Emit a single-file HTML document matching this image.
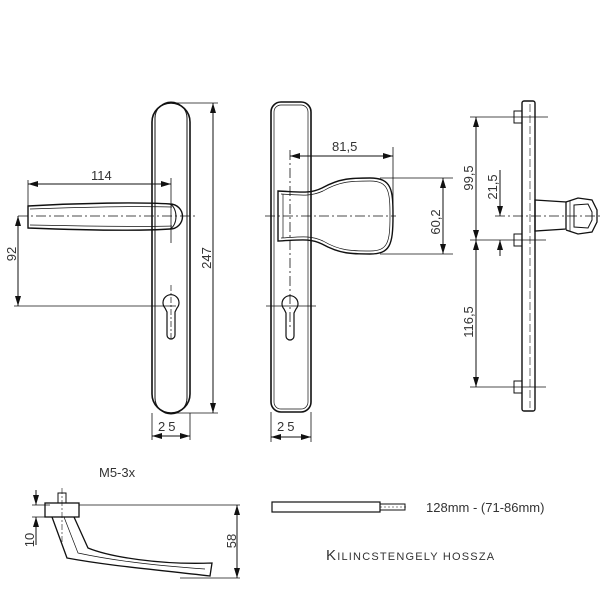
<!DOCTYPE html>
<html><head><meta charset="utf-8"><style>
html,body{margin:0;padding:0;background:#fff}
svg{display:block}
text{font-family:"Liberation Sans",sans-serif;fill:#333}
</style></head><body>
<svg width="600" height="600" viewBox="0 0 600 600" xmlns="http://www.w3.org/2000/svg">
<defs>
<marker id="a" viewBox="0 0 10 6" refX="10" refY="3" markerWidth="10" markerHeight="6" orient="auto-start-reverse" markerUnits="userSpaceOnUse"><path d="M0,0L10,3L0,6z" fill="#111"/></marker>
</defs>
<g stroke="#111" fill="none" stroke-width="1">
<!-- LEFT PLATE -->
<rect x="152" y="103" width="38" height="310" rx="19" stroke-width="1.6"/>
<line x1="155" y1="118" x2="155" y2="398"/><line x1="187" y1="118" x2="187" y2="398"/>
<path d="M155,118 A16,16 0 0 1 187,118 M155,398 A16,16 0 0 0 187,398"/>
<line x1="172" y1="103" x2="218" y2="103" stroke-width=".8"/><line x1="172" y1="413" x2="218" y2="413" stroke-width=".8"/>
<line x1="213" y1="103" x2="213" y2="413" marker-start="url(#a)" marker-end="url(#a)"/>
<line x1="28" y1="180" x2="28" y2="221" stroke-width=".8"/><line x1="171" y1="178" x2="171" y2="243" stroke-width=".8"/>
<line x1="28" y1="184" x2="171" y2="184" marker-start="url(#a)" marker-end="url(#a)"/>
<path d="M28,206 C80,203 140,202 170,204 A12,12 0 1 1 170,229 C140,231 80,230 28,228 Z" stroke-width="1.4"/>
<path d="M30,209 C80,207 140,206 172,207 M30,225 C80,226 140,227 172,226" stroke-width=".7"/>
<path d="M170,204 C178,208 178,225 170,229" stroke-width="1"/>
<line x1="18" y1="216" x2="198" y2="216" stroke-dasharray="10,3,2,3" stroke-width=".8"/>
<line x1="18" y1="216" x2="18" y2="306" marker-start="url(#a)" marker-end="url(#a)"/>
<line x1="14" y1="306" x2="176" y2="306" stroke-width=".8"/>
<path d="M165,308 A8,8 0 1 1 177,308 L175,312 L175,335 A4,4 0 0 1 167,335 L167,312 Z" stroke-width="1.2"/>
<line x1="171" y1="285" x2="171" y2="340" stroke-dasharray="6,2,2,2" stroke-width=".7"/>
<line x1="152" y1="413" x2="152" y2="440" stroke-width=".8"/><line x1="190" y1="413" x2="190" y2="440" stroke-width=".8"/>
<line x1="152" y1="436" x2="190" y2="436" marker-start="url(#a)" marker-end="url(#a)"/>

<!-- MIDDLE PLATE -->
<rect x="271" y="102" width="40" height="310" rx="10" stroke-width="1.6"/>
<rect x="274" y="105" width="34" height="304" rx="7" stroke-width=".7"/>
<line x1="290" y1="150" x2="290" y2="330" stroke-dasharray="10,3,2,3" stroke-width=".8"/>
<line x1="265" y1="216" x2="396" y2="216" stroke-dasharray="10,3,2,3" stroke-width=".8"/>
<path d="M278,191 C300,192 310,194 322,188 C340,178 352,178 370,178 C392,178 393,190 393,216 C393,245 390,254 370,254 C352,254 340,254 322,244 C310,238 300,240 278,241 Z" stroke-width="1.4"/>
<path d="M281,194 C300,195 310,197 323,191 C340,181 352,181 370,181 C389,181 390,192 390,216 C390,242 388,251 370,251 C352,251 340,251 323,241 C310,235 300,237 281,238" stroke-width=".7"/>
<line x1="283" y1="194" x2="283" y2="238" stroke-width=".7"/>
<line x1="393" y1="147" x2="393" y2="216" stroke-width=".8"/>
<line x1="290" y1="156" x2="393" y2="156" marker-start="url(#a)" marker-end="url(#a)"/>
<line x1="380" y1="178" x2="453" y2="178" stroke-width=".8"/><line x1="380" y1="254" x2="453" y2="254" stroke-width=".8"/>
<line x1="443" y1="178" x2="443" y2="254" marker-start="url(#a)" marker-end="url(#a)"/>
<path d="M284,309 A8,8 0 1 1 296,309 L294,313 L294,336 A4,4 0 0 1 286,336 L286,313 Z" stroke-width="1.2"/>
<line x1="266" y1="306" x2="316" y2="306" stroke-width=".8"/>
<line x1="271" y1="412" x2="271" y2="442" stroke-width=".8"/><line x1="311" y1="412" x2="311" y2="442" stroke-width=".8"/>
<line x1="271" y1="437" x2="311" y2="437" marker-start="url(#a)" marker-end="url(#a)"/>

<!-- SIDE VIEW -->
<rect x="522" y="101" width="13" height="310" rx="2" stroke-width="1.4"/>
<line x1="530" y1="104" x2="530" y2="408" stroke-dasharray="8,3" stroke-width=".6"/>
<rect x="514" y="111" width="8" height="12" stroke-width="1"/>
<rect x="514" y="234" width="8" height="12" stroke-width="1"/>
<rect x="514" y="381" width="8" height="12" stroke-width="1"/>
<line x1="470" y1="117" x2="548" y2="117" stroke-width=".8"/>
<line x1="470" y1="240" x2="546" y2="240" stroke-width=".8"/>
<line x1="470" y1="387" x2="546" y2="387" stroke-width=".8"/>
<line x1="495" y1="216" x2="600" y2="216" stroke-dasharray="10,3,2,3" stroke-width=".8"/>
<line x1="476" y1="117" x2="476" y2="240" marker-start="url(#a)" marker-end="url(#a)"/>
<line x1="476" y1="240" x2="476" y2="387" marker-start="url(#a)" marker-end="url(#a)"/>
<line x1="500" y1="170" x2="500" y2="216" marker-end="url(#a)"/>
<line x1="500" y1="256" x2="500" y2="240" marker-end="url(#a)"/>
<path d="M535,200 L566,202 L566,229 L535,231 Z" stroke-width="1.3"/>
<path d="M566,202 L578,198 L592,200 L597,210 L597,222 L592,232 L578,234 L566,230" stroke-width="1.3"/>
<path d="M574,205 L588,204 L592,212 L592,220 L588,228 L574,227 Z" stroke-width="1"/>
<line x1="570" y1="201" x2="570" y2="231" stroke-width=".7"/>

<!-- BOTTOM LEVER SIDE -->
<rect x="58" y="493" width="8" height="10" stroke-width="1"/>
<rect x="45" y="503" width="34" height="14" stroke-width="1.3"/>
<line x1="62" y1="488" x2="62" y2="545" stroke-dasharray="6,2,2,2" stroke-width=".6"/>
<path d="M52,517 L67,558 C110,566 160,570 210,576 L212,563 C160,565 110,557 88,548 L74,517" stroke-width="1.3"/>
<path d="M64,517 L78,553 C115,561 160,566 205,569" stroke-width=".7"/>
<line x1="79" y1="505" x2="240" y2="505" stroke-width=".8"/>
<line x1="180" y1="578" x2="240" y2="578" stroke-width=".8"/>
<line x1="237" y1="505" x2="237" y2="578" marker-start="url(#a)" marker-end="url(#a)"/>
<line x1="32" y1="505" x2="50" y2="505" stroke-width=".8"/><line x1="32" y1="517" x2="50" y2="517" stroke-width=".8"/>
<line x1="36" y1="490" x2="36" y2="505" marker-end="url(#a)"/>
<line x1="36" y1="545" x2="36" y2="517" marker-end="url(#a)"/>
<rect x="272" y="502" width="108" height="10" stroke-width="1.2"/>
<rect x="380" y="504" width="25" height="6" stroke-width="1"/>
<line x1="380" y1="507" x2="408" y2="507" stroke-dasharray="2,2" stroke-width=".6"/>
</g>
<g font-size="13">
<text x="91" y="180">114</text>
<text x="158" y="431" letter-spacing="3">25</text>
<text x="277" y="431" letter-spacing="3">25</text>
<text x="332" y="151">81,5</text>
<text transform="translate(211,258) rotate(-90)" text-anchor="middle">247</text>
<text transform="translate(16,254) rotate(-90)" text-anchor="middle">92</text>
<text transform="translate(440,222) rotate(-90)" text-anchor="middle">60,2</text>
<text transform="translate(473,178) rotate(-90)" text-anchor="middle">99,5</text>
<text transform="translate(473,322) rotate(-90)" text-anchor="middle">116,5</text>
<text transform="translate(497,187) rotate(-90)" text-anchor="middle">21,5</text>
<text transform="translate(236,541) rotate(-90)" text-anchor="middle">58</text>
<text transform="translate(34,540) rotate(-90)" text-anchor="middle">10</text>
<text x="99" y="477">M5-3x</text>
<text x="426" y="512">128mm - (71-86mm)</text>
<text x="326" y="560" font-size="15" letter-spacing="1.2">K<tspan font-size="11">ILINCSTENGELY HOSSZA</tspan></text>
</g>
</svg>
</body></html>
